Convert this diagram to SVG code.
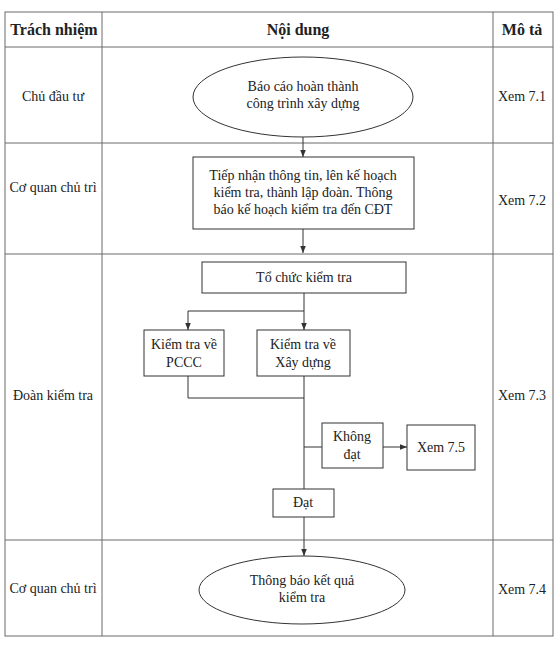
<svg xmlns="http://www.w3.org/2000/svg" width="560" height="648" viewBox="0 0 560 648">
<style>
.grid{stroke:#6a6a6a;stroke-width:1;fill:none}
.shape{fill:#fff;stroke:#333;stroke-width:1}
.con{stroke:#333;stroke-width:1;fill:none}
text{font-family:"Liberation Serif","Times New Roman",serif;fill:#222;font-size:14px;text-anchor:middle}
.h{font-weight:bold;font-size:16px}
</style>
<defs>
<marker id="ah" viewBox="0 0 10 10" refX="10" refY="5" markerWidth="7" markerHeight="7" orient="auto" markerUnits="userSpaceOnUse">
<path d="M0,1 L10,5 L0,9 z" fill="#333"/>
</marker>
</defs>
<rect width="560" height="648" fill="#fff"/>
<g id="table">
<rect class="grid" x="5" y="12" width="548" height="624"/>
<line class="grid" x1="102" y1="12" x2="102" y2="636"/>
<line class="grid" x1="493" y1="12" x2="493" y2="636"/>
<line class="grid" x1="5" y1="47" x2="553" y2="47"/>
<line class="grid" x1="5" y1="143" x2="553" y2="143"/>
<line class="grid" x1="5" y1="254" x2="553" y2="254"/>
<line class="grid" x1="5" y1="540" x2="553" y2="540"/>
<text class="h" x="54" y="35">Trách nhiệm</text>
<text class="h" x="298" y="35">Nội dung</text>
<text class="h" x="522" y="35">Mô tả</text>
<text x="53" y="101">Chủ đầu tư</text>
<text x="53" y="192">Cơ quan chủ trì</text>
<text x="53" y="400">Đoàn kiểm tra</text>
<text x="53" y="593">Cơ quan chủ trì</text>
<text x="522" y="101">Xem 7.1</text>
<text x="522" y="205">Xem 7.2</text>
<text x="522" y="400">Xem 7.3</text>
<text x="522" y="594">Xem 7.4</text>
</g>
<g id="connectors">
<line class="con" x1="303" y1="137" x2="303" y2="157" marker-end="url(#ah)"/>
<line class="con" x1="303" y1="229" x2="303" y2="253" marker-end="url(#ah)"/>
<polyline class="con" points="304,293 304,311"/>
<polyline class="con" points="304,311 188,311 188,330" marker-end="url(#ah)"/>
<line class="con" x1="304" y1="311" x2="304" y2="330" marker-end="url(#ah)"/>
<polyline class="con" points="188,376 188,398 304,398"/>
<line class="con" x1="304" y1="376" x2="304" y2="489"/>
<line class="con" x1="304" y1="447" x2="322" y2="447"/>
<line class="con" x1="383" y1="447" x2="407" y2="447" marker-end="url(#ah)"/>
<line class="con" x1="304" y1="517" x2="304" y2="556" marker-end="url(#ah)"/>
</g>
<g id="n1">
<ellipse class="shape" cx="303" cy="97" rx="110" ry="40"/>
<text x="303" y="91">Báo cáo hoàn thành</text>
<text x="303" y="108">công trình xây dựng</text>
</g>
<g id="n2">
<rect class="shape" x="193" y="157" width="221" height="72"/>
<text x="303" y="180">Tiếp nhận thông tin, lên kế hoạch</text>
<text x="303" y="197">kiểm tra, thành lập đoàn. Thông</text>
<text x="303" y="214">báo kế hoạch kiểm tra đến CĐT</text>
</g>
<g id="n3">
<rect class="shape" x="202" y="262" width="204" height="31"/>
<text x="304" y="282">Tổ chức kiểm tra</text>
</g>
<g id="n4">
<rect class="shape" x="144" y="330" width="80" height="46"/>
<text x="184" y="349">Kiểm tra về</text>
<text x="184" y="367">PCCC</text>
</g>
<g id="n5">
<rect class="shape" x="257" y="330" width="93" height="46"/>
<text x="303" y="349">Kiểm tra về</text>
<text x="303" y="367">Xây dựng</text>
</g>
<g id="n6">
<rect class="shape" x="322" y="423" width="61" height="45"/>
<text x="352" y="441">Không</text>
<text x="352" y="459">đạt</text>
</g>
<g id="n7">
<rect class="shape" x="407" y="425" width="68" height="45"/>
<text x="441" y="452">Xem 7.5</text>
</g>
<g id="n8">
<rect class="shape" x="273" y="489" width="61" height="28"/>
<text x="303" y="507">Đạt</text>
</g>
<g id="n9">
<ellipse class="shape" cx="302" cy="590" rx="103" ry="34"/>
<text x="302" y="585">Thông báo kết quả</text>
<text x="302" y="602">kiểm tra</text>
</g>
</svg>
